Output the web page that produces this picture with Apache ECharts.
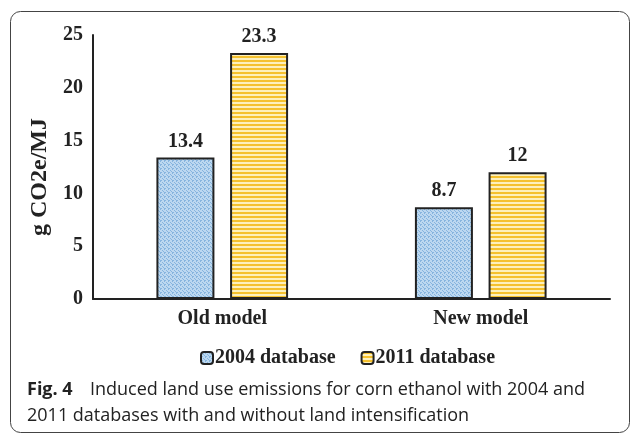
<!DOCTYPE html>
<html><head><meta charset="utf-8">
<script src="https://cdn.jsdelivr.net/npm/echarts@6/dist/echarts.min.js"></script>
<style>html,body{margin:0;padding:0;background:#fff}#c{width:630px;height:434px}</style>
</head><body><div id="c"></div>
<script>
const categories = ['Old model', 'New model'];
const seriesNames = ['2004 database', '2011 database'];
const values2004 = [13.4, 8.7];
const values2011 = [23.3, 12];
const yTicks = [0, 5, 10, 15, 20, 25];
const yAxisTitle = 'g CO2e/MJ';
const captionBold = 'Fig. 4';
const captionLine1 = 'Induced land use emissions for corn ethanol with 2004 and';
const captionLine2 = '2011 databases with and without land intensification';

function bluePattern() {
  const c = document.createElement('canvas'); c.width = 4; c.height = 4;
  const g = c.getContext('2d');
  g.fillStyle = '#bcd8f0'; g.fillRect(0, 0, 4, 4);
  g.fillStyle = '#86b4de';
  g.fillRect(0, 0, 2, 1); g.fillRect(0, 0, 1, 2);
  g.fillRect(2, 2, 1, 1); g.fillRect(3, 3, 1, 1);
  return { image: c, repeat: 'repeat' };
}
function yellowPattern() {
  const c = document.createElement('canvas'); c.width = 4; c.height = 4;
  const g = c.getContext('2d');
  g.fillStyle = '#f5c12e'; g.fillRect(0, 0, 4, 2);
  g.fillStyle = '#fdf0bc'; g.fillRect(0, 2, 4, 2);
  return { image: c, repeat: 'repeat' };
}

const serif = '"Liberation Serif", "Times New Roman", serif';
const sans = '"Open Sans", "Noto Sans", sans-serif';
const chart = echarts.init(document.getElementById('c'), null, { renderer: 'canvas' });
const labelStyle = { show: true, position: 'top', distance: 6, fontFamily: serif, fontWeight: 'bold', fontSize: 20, color: '#222' };
chart.setOption({
  animation: false,
  backgroundColor: '#fff',
  grid: { left: 93, right: 20, top: 35, bottom: 135, containLabel: false },
  legend: {
    data: seriesNames, left: 195, top: 343, itemWidth: 12, itemHeight: 12, itemGap: 25,
    textStyle: { fontFamily: serif, fontWeight: 'bold', fontSize: 20, color: '#222', padding: [0, 0, 0, -3] }
  },
  xAxis: {
    type: 'category', data: categories,
    axisLine: { lineStyle: { color: '#222', width: 2 } },
    axisTick: { show: false },
    axisLabel: { fontFamily: serif, fontWeight: 'bold', fontSize: 20, color: '#222', margin: 10 }
  },
  yAxis: {
    type: 'value', min: 0, max: 25, interval: 5,
    name: yAxisTitle, nameLocation: 'middle', nameGap: 39, nameRotate: 90,
    nameTextStyle: { fontFamily: serif, fontWeight: 'bold', fontSize: 24, color: '#222', padding: [0, 0, 0, -20] },
    axisLine: { show: true, lineStyle: { color: '#222', width: 2 } },
    axisTick: { show: false }, splitLine: { show: false },
    axisLabel: { fontFamily: serif, fontWeight: 'bold', fontSize: 20, color: '#222', margin: 10,
      formatter: v => yTicks.includes(v) ? String(v) : '' }
  },
  series: [
    { name: seriesNames[0], type: 'bar', data: values2004, barWidth: 58, barGap: '27%',
      itemStyle: { color: bluePattern(), borderColor: '#222', borderWidth: 2 }, label: labelStyle },
    { name: seriesNames[1], type: 'bar', data: values2011, barWidth: 58,
      itemStyle: { color: yellowPattern(), borderColor: '#222', borderWidth: 2 }, label: labelStyle }
  ],
  graphic: [
    { type: 'rect', shape: { x: 10.5, y: 11.5, width: 619, height: 421, r: 10 },
      style: { fill: null, stroke: '#444', lineWidth: 1 }, z: -1 },
    { type: 'text', left: 27, top: 381, style: { text: captionBold, font: 'bold 18px ' + sans, fill: '#222' } },
    { type: 'text', left: 90, top: 381, style: { text: captionLine1, font: '18px ' + sans, fill: '#222' } },
    { type: 'text', left: 27, top: 407, style: { text: captionLine2, font: '18px ' + sans, fill: '#222' } }
  ]
});
</script></body></html>
